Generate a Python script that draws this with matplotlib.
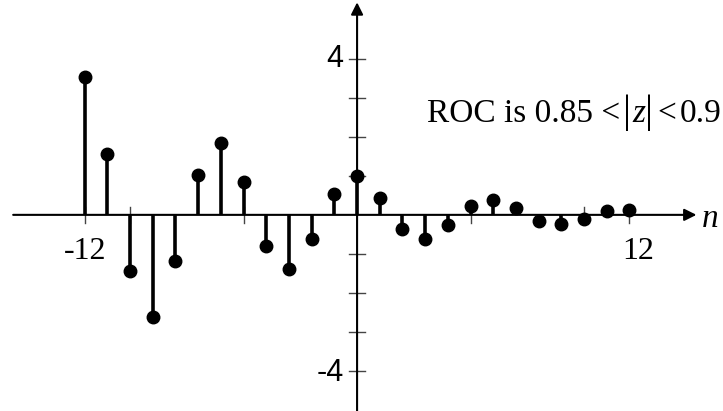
import matplotlib.pyplot as plt
import numpy as np

# sample index and values
n_vals = list(range(-12, 13))
x_vals = [3.54, 1.57, -1.45, -2.61, -1.18, 1.03, 1.85, 0.83, -0.79, -1.39, -0.63, 0.54,
          0.99, 0.43, -0.37, -0.62, -0.26, 0.22, 0.39, 0.17, -0.15, -0.24, -0.11, 0.09, 0.13]
xtick_pos = [-12, -10, -5, 5, 10, 12]
ytick_pos = [-4, -3, -2, -1, 1, 2, 3, 4]

serif = ['Liberation Serif', 'DejaVu Serif']
sans = ['Liberation Sans', 'DejaVu Sans']

fig = plt.figure(figsize=(7.23, 4.11), dpi=100)
ax = fig.add_axes([0, 0, 1, 1])
ax.set_xlim(-15.73, 16.12)
ax.set_ylim(-5.03, 5.51)
ax.axis('off')

# axes with arrow heads
ax.annotate('', xy=(14.95, 0), xytext=(-15.15, 0),
            arrowprops=dict(arrowstyle='-|>', color='black', lw=1.5,
                            mutation_scale=18, shrinkA=0, shrinkB=0))
ax.annotate('', xy=(0, 5.45), xytext=(0, -5.1),
            arrowprops=dict(arrowstyle='-|>', color='black', lw=1.5,
                            mutation_scale=18, shrinkA=0, shrinkB=0))

# tick marks crossing the axes
for t in ytick_pos:
    ax.plot([-0.35, 0.35], [t, t], color='#444444', lw=1, zorder=1)
for t in xtick_pos:
    ax.plot([t, t], [-0.2, 0.2], color='#444444', lw=1, zorder=1)

# the sequence
ax.vlines(n_vals, 0, x_vals, color='black', lw=2.6, zorder=3)
ax.plot(n_vals, x_vals, 'o', color='black', ms=9, zorder=4)

ax.text(-0.6, 4, "4", ha='right', va='center', fontsize=22, family=sans)
ax.text(-0.6, -4.05, "-4", ha='right', va='center', fontsize=22, family=sans)
ax.text(-12, -0.95, "-12", ha='center', va='center', fontsize=23, family=serif)
ax.text(12.4, -0.95, "12", ha='center', va='center', fontsize=23, family=serif)
ax.text(15.2, -0.1, "n", ha='left', va='center', fontsize=24, family=serif, style='italic')

# ROC annotation, pieced together so the |z| bars can be tall
yb = 2.38
ax.text(3.08, yb, "ROC is 0.85 <", ha='left', va='baseline', fontsize=24, family=serif)
ax.text(11.89, yb, "|", ha='center', va='baseline', fontsize=29, family=serif)
ax.text(12.4, yb, "z", ha='center', va='baseline', fontsize=24, family=serif, style='italic')
ax.text(12.86, yb, "|", ha='center', va='baseline', fontsize=29, family=serif)
ax.text(13.25, yb, "<", ha='left', va='baseline', fontsize=24, family=serif)
ax.text(14.2, yb, "0.9", ha='left', va='baseline', fontsize=24, family=serif)

plt.savefig("out.png", dpi=100)
